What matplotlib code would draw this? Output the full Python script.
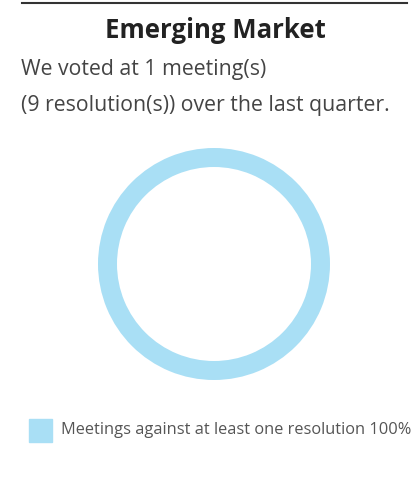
import matplotlib
matplotlib.use("Agg")
from matplotlib import pyplot as plt
from matplotlib.patches import Rectangle

# Datos del grafico
title = "Emerging Market"
subtitle = ["We voted at 1 meeting(s)", "(9 resolution(s)) over the last quarter."]
categories = ["Meetings against at least one resolution"]
values = [100]
colors = ["#a9dff5"]

W, H = 414, 494
fig = plt.figure(figsize=(W / 100, H / 100), dpi=100)

# linea superior
fig.add_artist(plt.Line2D([22 / W, 407 / W], [1 - 3 / H, 1 - 3 / H], color="#333333", linewidth=1.5))

fig.text(215 / W, 1 - 30 / H, title, ha="center", va="center", fontsize=18.5,
         fontweight="bold", color="#222222", family="Open Sans")
for i, line in enumerate(subtitle):
    fig.text(21 / W, 1 - (69 + 36 * i) / H, line, ha="left", va="center", fontsize=15.3,
             color="#444444", family="Open Sans")

# anillo
cx, cy, r = 214, 264, 116
ax = fig.add_axes([(cx - r) / W, 1 - (cy + r) / H, 2 * r / W, 2 * r / H])
ax.pie(values, colors=colors, radius=1, startangle=90, counterclock=False,
       wedgeprops=dict(width=19 / 116, edgecolor="none"))
ax.set_xlim(-1, 1)
ax.set_ylim(-1, 1)
ax.set_aspect("equal")
ax.axis("off")

# leyenda
for i, (cat, val) in enumerate(zip(categories, values)):
    y = 430 + 30 * i
    fig.add_artist(Rectangle((29 / W, 1 - (y + 11.5) / H), 23 / W, 23 / H, color=colors[i],
                             transform=fig.transFigure))
    fig.text(61 / W, 1 - y / H, f"{cat} {val}%", ha="left", va="center", fontsize=11.8,
             color="#555555", family="Open Sans")

fig.savefig("out.png", dpi=100)
